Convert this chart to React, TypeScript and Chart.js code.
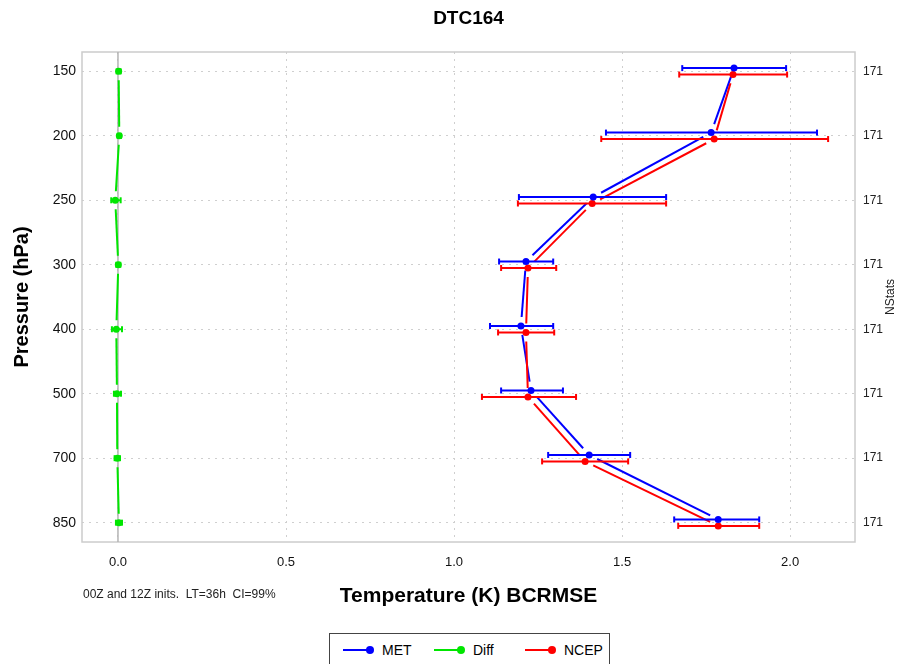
import React, { useEffect, useRef } from 'react';
import { Chart, registerables } from 'chart.js';

Chart.register(...registerables);

const FONT = '"Liberation Sans", Arial, Helvetica, sans-serif';
Chart.defaults.font.family = FONT;

// pressure levels (hPa), top to bottom
const levels = [150, 200, 250, 300, 400, 500, 700, 850];
const nStats = [171, 171, 171, 171, 171, 171, 171, 171];
const xTicks = [0, 0.5, 1.0, 1.5, 2.0];

const metValues = [1.833, 1.765, 1.414, 1.214, 1.199, 1.229, 1.402, 1.786];
const metLow = [1.679, 1.452, 1.193, 1.134, 1.107, 1.140, 1.280, 1.655];
const metHigh = [1.988, 2.080, 1.631, 1.295, 1.295, 1.324, 1.524, 1.908];

const ncepValues = [1.830, 1.774, 1.411, 1.220, 1.214, 1.220, 1.390, 1.786];
const ncepLow = [1.670, 1.438, 1.190, 1.140, 1.131, 1.083, 1.262, 1.667];
const ncepHigh = [1.991, 2.113, 1.631, 1.304, 1.298, 1.363, 1.518, 1.908];

const diffValues = [0.002, 0.004, -0.008, 0.001, -0.005, -0.003, -0.002, 0.003];
const diffLow = [-0.004, -0.001, -0.020, -0.005, -0.018, -0.012, -0.010, -0.006];
const diffHigh = [0.008, 0.009, 0.008, 0.007, 0.012, 0.009, 0.006, 0.012];

const legendItems = [
  { label: 'MET', color: '#0000ff' },
  { label: 'Diff', color: '#00e600' },
  { label: 'NCEP', color: '#ff0000' },
];

const makeSeries = (label: string, values: number[], low: number[], high: number[], color: string, shift: number) => ({
  label,
  data: values.map((v, i) => ({ x: v, y: i + shift })),
  low,
  high,
  borderColor: color,
  backgroundColor: color,
  pointRadius: 3.5,
  pointBorderWidth: 0,
  showLine: false,
});

const line = (ctx: CanvasRenderingContext2D, x1: number, y1: number, x2: number, y2: number) => {
  ctx.beginPath();
  ctx.moveTo(x1, y1);
  ctx.lineTo(x2, y2);
  ctx.stroke();
};

const profilePlugin = {
  id: 'profile',
  beforeDatasetsDraw(chart: any) {
    const { ctx, chartArea, scales } = chart;
    ctx.save();
    // frame
    ctx.strokeStyle = '#cccccc';
    ctx.lineWidth = 1.5;
    ctx.strokeRect(chartArea.left, chartArea.top, chartArea.right - chartArea.left, chartArea.bottom - chartArea.top);
    // zero line
    const x0 = scales.x.getPixelForValue(0);
    ctx.strokeStyle = '#b4b4b4';
    line(ctx, x0, chartArea.top, x0, chartArea.bottom);
    // lines with gaps round the points
    const gap = 9;
    chart.data.datasets.forEach((ds: any, i: number) => {
      const pts = chart.getDatasetMeta(i).data;
      ctx.strokeStyle = ds.borderColor;
      ctx.lineWidth = 2;
      for (let k = 0; k < pts.length - 1; k++) {
        const a = pts[k];
        const b = pts[k + 1];
        const dx = b.x - a.x;
        const dy = b.y - a.y;
        const len = Math.hypot(dx, dy);
        if (len <= gap * 2) continue;
        const ux = dx / len;
        const uy = dy / len;
        line(ctx, a.x + ux * gap, a.y + uy * gap, b.x - ux * gap, b.y - uy * gap);
      }
    });
    ctx.restore();
  },
  afterDatasetsDraw(chart: any) {
    const { ctx, scales } = chart;
    ctx.save();
    ctx.lineWidth = 2;
    chart.data.datasets.forEach((ds: any, i: number) => {
      const pts = chart.getDatasetMeta(i).data;
      ctx.strokeStyle = ds.borderColor;
      pts.forEach((p: any, k: number) => {
        const xl = scales.x.getPixelForValue(ds.low[k]);
        const xh = scales.x.getPixelForValue(ds.high[k]);
        line(ctx, xl, p.y, xh, p.y);
        line(ctx, xl, p.y - 3, xl, p.y + 3);
        line(ctx, xh, p.y - 3, xh, p.y + 3);
      });
    });
    ctx.restore();
  },
  afterDraw(chart: any) {
    const { ctx, chartArea } = chart;
    ctx.save();
    ctx.fillStyle = '#000';
    ctx.textAlign = 'center';
    ctx.textBaseline = 'middle';
    ctx.font = `bold 19px ${FONT}`;
    ctx.fillText('DTC164', (chartArea.left + chartArea.right) / 2, 19);
    ctx.textAlign = 'left';
    ctx.fillStyle = '#222';
    ctx.font = `12px ${FONT}`;
    ctx.fillText('00Z and 12Z inits.  LT=36h  CI=99%', 83, 595);
    ctx.translate(891, (chartArea.top + chartArea.bottom) / 2);
    ctx.rotate(-Math.PI / 2);
    ctx.textAlign = 'center';
    ctx.fillText('NStats', 0, 0);
    ctx.restore();
  },
};

const levelTicks = (s: any) => {
  s.ticks = levels.map((_, i) => ({ value: i }));
};

const App: React.FC = () => {
  const canvasRef = useRef<HTMLCanvasElement>(null);
  const chartRef = useRef<Chart | null>(null);

  useEffect(() => {
    if (!canvasRef.current) return;
    if (chartRef.current) chartRef.current.destroy();
    chartRef.current = new Chart(canvasRef.current, {
      type: 'scatter',
      data: {
        datasets: [
          makeSeries('Diff', diffValues, diffLow, diffHigh, '#00e600', 0),
          makeSeries('MET', metValues, metLow, metHigh, '#0000ff', -0.05),
          makeSeries('NCEP', ncepValues, ncepLow, ncepHigh, '#ff0000', 0.05),
        ] as any,
      },
      options: {
        animation: false,
        responsive: false,
        layout: { padding: { top: 52, left: 0, right: 0, bottom: 0 } },
        plugins: {
          legend: { display: false },
          tooltip: { enabled: false },
        },
        scales: {
          x: {
            type: 'linear',
            min: -0.107,
            max: 2.193,
            afterBuildTicks: (s: any) => {
              s.ticks = xTicks.map((v) => ({ value: v }));
            },
            afterFit: (s: any) => {
              s.height = 122;
            },
            grid: { color: '#cfcfcf', lineWidth: 1, drawTicks: false },
            border: { display: false, dash: [2, 5] },
            ticks: {
              padding: 13,
              color: '#111',
              font: { size: 13 },
              callback: (v: any) => Number(v).toFixed(1),
            },
            title: {
              display: true,
              text: 'Temperature (K) BCRMSE',
              color: '#000',
              font: { size: 21, weight: 'bold' },
              padding: { top: 0, bottom: 55 },
            },
          },
          y: {
            type: 'linear',
            reverse: true,
            min: -0.3,
            max: 7.3,
            afterBuildTicks: levelTicks,
            afterFit: (s: any) => {
              s.width = 82;
            },
            grid: { color: '#cfcfcf', lineWidth: 1, drawTicks: false },
            border: { display: false, dash: [2, 5] },
            ticks: {
              padding: 6,
              color: '#111',
              font: { size: 14 },
              callback: (v: any) => String(levels[v] ?? ''),
            },
            title: {
              display: true,
              text: 'Pressure (hPa)',
              color: '#000',
              font: { size: 20, weight: 'bold' },
              padding: { top: 10, bottom: 0 },
            },
          },
          y2: {
            type: 'linear',
            position: 'right',
            reverse: true,
            min: -0.3,
            max: 7.3,
            afterBuildTicks: levelTicks,
            afterFit: (s: any) => {
              s.width = 44;
            },
            grid: { display: false, drawTicks: false },
            border: { display: false },
            ticks: {
              padding: 8,
              color: '#222',
              font: { size: 12 },
              callback: (v: any) => String(nStats[v] ?? ''),
            },
          },
        },
      } as any,
      plugins: [profilePlugin],
    });
    return () => {
      if (chartRef.current) {
        chartRef.current.destroy();
        chartRef.current = null;
      }
    };
  }, []);

  return (
    <div style={{ position: 'fixed', left: 0, top: 0, width: 899, height: 664, background: '#fff', overflow: 'hidden' }}>
      <canvas ref={canvasRef} width={899} height={664} style={{ width: 899, height: 664, display: 'block' }} />
      <div
        style={{
          position: 'absolute',
          left: 329,
          top: 633,
          width: 281,
          height: 50,
          border: '1px solid #444',
          boxSizing: 'border-box',
          background: '#fff',
          fontFamily: FONT,
          fontSize: 14,
          color: '#000',
        }}
      >
        {legendItems.map((item, i) => {
          const lx = [13, 104, 195][i];
          return (
            <React.Fragment key={item.label}>
              <div style={{ position: 'absolute', left: lx, top: 15, width: 27, height: 2, background: item.color }} />
              <div style={{ position: 'absolute', left: lx + 23, top: 12, width: 8, height: 8, borderRadius: 4, background: item.color }} />
              <div style={{ position: 'absolute', left: lx + 39, top: 7, lineHeight: '18px' }}>{item.label}</div>
            </React.Fragment>
          );
        })}
      </div>
    </div>
  );
};

export default App;
